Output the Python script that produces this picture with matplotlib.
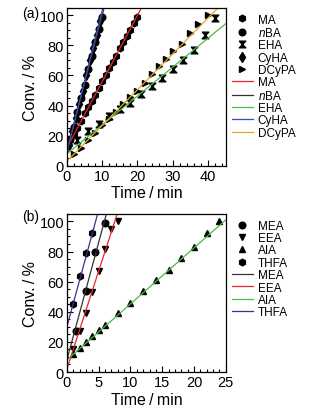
import matplotlib
matplotlib.use("Agg")
import matplotlib.pyplot as plt
import numpy as np
from matplotlib.ticker import MultipleLocator

plt.rcParams['font.family'] = ['Liberation Sans', 'DejaVu Sans']
plt.rcParams['mathtext.fontset'] = 'custom'
plt.rcParams['mathtext.it'] = 'Liberation Sans:italic'
plt.rcParams['mathtext.rm'] = 'Liberation Sans'

# ---- panel (a) data ----
t_MA = [1, 2, 3, 4, 5, 6, 7, 8, 9, 10, 11, 12, 13, 14, 15, 16, 17, 18, 19, 20]
c_MA = [17, 21, 25, 30, 35, 39, 43, 47, 52, 56, 60, 65, 69, 73, 78, 82, 86, 90, 95, 99]
t_nBA = [1, 2, 3, 4, 5, 6, 7, 8, 9, 10]
c_nBA = [18, 26, 36, 45, 54, 64, 73, 82, 91, 99]
t_EHA = [3, 6, 9, 12, 15, 18, 21, 24, 27, 30, 33, 36, 39, 42]
c_EHA = [17, 23, 28, 33, 38, 42, 48, 53, 58, 64, 70, 77, 87, 98]
t_CyHA = [0.5, 1.5, 2.5, 3.5, 4.5, 5.5, 6.5, 7.5, 8.5, 9.5]
c_CyHA = [14, 23, 32, 41, 50, 60, 70, 78, 87, 96]
t_DCyPA = [2, 4, 6, 8, 10, 12, 14, 16, 18, 20, 22, 24, 26, 28, 30, 32.5, 35, 37, 40]
c_DCyPA = [8, 12, 17, 22, 27, 31, 36, 41, 46, 50, 55, 61, 66, 71, 76, 81, 88, 94, 100]
# fitted lines (intercept, slope)
fit_a = {'MA': (12, 4.4), 'nBA': (10, 9.0), 'EHA': (8, 1.92),
         'CyHA': (9, 9.4), 'DCyPA': (3, 2.38)}

# ---- panel (b) data ----
t_MEA = [1.5, 3, 4.5, 6]
c_MEA = [27, 54, 80, 99]
t_EEA = [1, 2, 3, 4, 5, 6, 7, 8]
c_EEA = [15, 27, 39, 53, 67, 82, 95, 100]
t_AIA = [1, 2, 3, 4, 5, 6, 8, 10, 12, 14, 16, 18, 20, 22, 24]
c_AIA = [12, 16, 20, 24, 28, 31, 39, 46, 54, 61, 68, 76, 83, 92, 100]
t_THFA = [1, 2, 3, 4]
c_THFA = [45, 64, 79, 92]
fit_b = {'MEA': (8, 15.6), 'EEA': (2, 13.0), 'AIA': (8, 3.72), 'THFA': (30, 15.5)}

RED = '#e8262b'
BLACK = '#333333'
GREEN = '#4cbb47'
BLUE = '#3b4bbf'
ORANGE = '#e5a823'
PURPLE = '#4a2a8f'

hourglass = [(-1, 1), (1, 1), (-1, -1), (1, -1), (-1, 1)]

fig = plt.figure(figsize=(3.14, 4.14), dpi=100)
ax1 = fig.add_axes([0.213, 0.597, 0.506, 0.382])
ax2 = fig.add_axes([0.213, 0.099, 0.506, 0.382])


def style(ax, xmax, xmaj, xmin):
    ax.set_xlim(0, xmax)
    ax.set_ylim(0, 105)
    ax.xaxis.set_major_locator(MultipleLocator(xmaj))
    ax.xaxis.set_minor_locator(MultipleLocator(xmin))
    ax.yaxis.set_major_locator(MultipleLocator(20))
    ax.yaxis.set_minor_locator(MultipleLocator(5))
    ax.tick_params(which='both', direction='in', labelsize=10.5, width=0.8, pad=2)
    ax.tick_params(which='major', length=4)
    ax.tick_params(which='minor', length=2.5)
    for s in ax.spines.values():
        s.set_linewidth(0.9)
    ax.set_xlabel('Time\u2009/\u2009min', fontsize=11.5, labelpad=2)
    ax.set_ylabel('Conv.\u2009/\u2009%', fontsize=11.5, labelpad=1)


ms = 4.8
mk = dict(color='black', linestyle='none', markersize=ms)
leg_kw = dict(loc='upper left', bbox_to_anchor=(1.0, 1.0), frameon=False,
              fontsize=8.5, handlelength=1.8, handletextpad=0.4, labelspacing=0.03,
              borderaxespad=0.2, borderpad=0.3)

# panel (a)
xx = np.linspace(0, 45, 50)
h1 = [
    ax1.plot(t_MA, c_MA, marker='h', label='MA', **mk)[0],
    ax1.plot(t_nBA, c_nBA, marker='o', label=r'$\it{n}$BA', **mk)[0],
    ax1.plot(t_EHA, c_EHA, marker=hourglass, label='EHA', **mk)[0],
    ax1.plot(t_CyHA, c_CyHA, marker='d', label='CyHA', color='black', linestyle='none', markersize=5.5)[0],
    ax1.plot(t_DCyPA, c_DCyPA, marker='>', label='DCyPA', **mk)[0],
]
for name, col, lab in [('MA', RED, 'MA'), ('nBA', BLACK, r'$\it{n}$BA'),
                       ('EHA', GREEN, 'EHA'), ('CyHA', BLUE, 'CyHA'),
                       ('DCyPA', ORANGE, 'DCyPA')]:
    b, m = fit_a[name]
    h1.append(ax1.plot(xx, b + m * xx, color=col, lw=0.9, label=lab)[0])
style(ax1, 45, 10, 2)
ax1.legend(handles=h1, **leg_kw)
fig.text(0.07, 0.965, '(a)', fontsize=10, va='center')

# panel (b)
xx = np.linspace(0, 25, 50)
h2 = [
    ax2.plot(t_MEA, c_MEA, marker='o', label='MEA', **mk)[0],
    ax2.plot(t_EEA, c_EEA, marker='v', label='EEA', **mk)[0],
    ax2.plot(t_AIA, c_AIA, marker='^', label='AIA', **mk)[0],
    ax2.plot(t_THFA, c_THFA, marker='h', label='THFA', **mk)[0],
]
for name, col in [('MEA', BLACK), ('EEA', RED), ('AIA', GREEN), ('THFA', PURPLE)]:
    b, m = fit_b[name]
    h2.append(ax2.plot(xx, b + m * xx, color=col, lw=0.9, label=name)[0])
style(ax2, 25, 5, 1)
ax2.legend(handles=h2, **leg_kw)
fig.text(0.07, 0.477, '(b)', fontsize=10, va='center')

plt.savefig('out.png', dpi=100)
